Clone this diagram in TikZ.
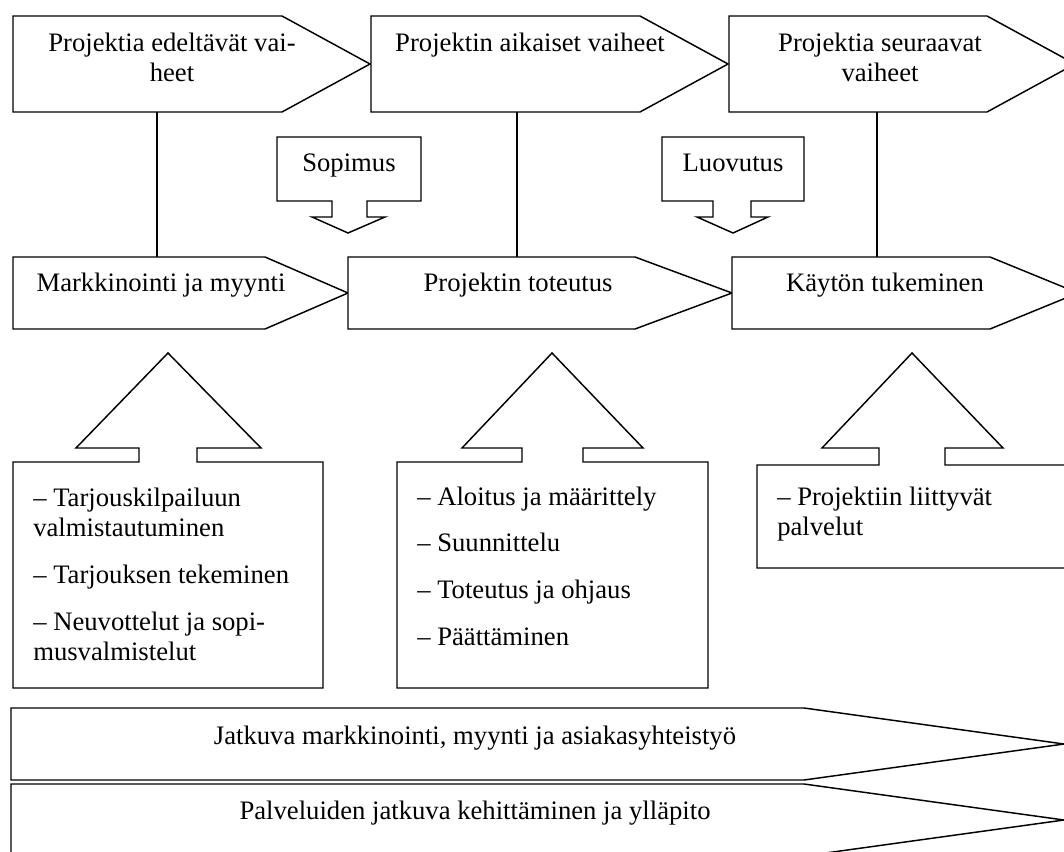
\documentclass[tikz,border=0pt]{standalone}
\usepackage{fontspec}
\setmainfont{Liberation Serif}
\begin{document}
\begin{tikzpicture}[x=0.75pt,y=-0.75pt,
  outline/.style={draw=black,line width=1.1pt,line join=miter,fill=white},
  conn/.style={draw=black,line width=1.1pt},
  lbl/.style={font=\fontsize{20}{22.5}\selectfont,inner sep=0pt,anchor=base},
  lst/.style={font=\fontsize{20}{22.5}\selectfont,inner sep=0pt,anchor=base west,align=left}]
\useasboundingbox (0,0) rectangle (1064,852);
\clip (0,0) rectangle (1064,852);

% connector end points between the two rows of phases
\coordinate (a1b) at (157,112);  \coordinate (m1t) at (157,257);
\coordinate (a2b) at (517,112);  \coordinate (m2t) at (517,257);
\coordinate (a3b) at (877,112);  \coordinate (m3t) at (877,257);
\draw[conn] (a1b) -- (m1t);
\draw[conn] (a2b) -- (m2t);
\draw[conn] (a3b) -- (m3t);

% top row of phase arrows
\draw[outline] (13,16) -- (282,16) -- (370,64) -- (282,112) -- (13,112) -- cycle;
\draw[outline] (371,16) -- (640,16) -- (728,64) -- (640,112) -- (371,112) -- cycle;
\draw[outline] (729,16) -- (987,16) -- (1075,64) -- (987,112) -- (729,112) -- cycle;

% middle row of phase arrows
\draw[outline] (13,257) -- (265,257) -- (348,293) -- (265,329) -- (13,329) -- cycle;
\draw[outline] (348,257) -- (635,257) -- (732,293) -- (635,329) -- (348,329) -- cycle;
\draw[outline] (732,257) -- (990,257) -- (1078,293) -- (990,329) -- (732,329) -- cycle;

% milestone callouts pointing down
\draw[outline] (277,137) -- (421,137) -- (421,201) -- (367,201) -- (367,217) -- (385,217)
  -- (348,233) -- (312,217) -- (332,217) -- (332,201) -- (277,201) -- cycle;
\draw[outline] (662,137) -- (804,137) -- (804,201) -- (751,201) -- (751,217) -- (768,217)
  -- (733,233) -- (697,217) -- (713,217) -- (713,201) -- (662,201) -- cycle;

% task callouts pointing up
\draw[outline] (168,353) -- (261,448) -- (197,448) -- (197,462) -- (323,462) -- (323,688)
  -- (13,688) -- (13,462) -- (139,462) -- (139,448) -- (76,448) -- cycle;
\draw[outline] (552,353) -- (643,448) -- (583,448) -- (583,462) -- (708,462) -- (708,688)
  -- (397,688) -- (397,462) -- (522,462) -- (522,448) -- (462,448) -- cycle;
\draw[outline] (912,353) -- (1003,448) -- (945,448) -- (945,465) -- (1072,465) -- (1072,568)
  -- (757,568) -- (757,465) -- (879,465) -- (879,448) -- (822,448) -- cycle;

% continuous activities
\draw[outline] (11,708) -- (804,708) -- (1064,744) -- (804,780) -- (11,780) -- cycle;
\draw[outline] (11,784) -- (804,784) -- (1064,820) -- (804,856) -- (11,856) -- cycle;

% labels (multi-line nodes sit on the baseline of their last line)
\node[lbl,align=center] (t1) at (172,82) {Projektia edeltävät vai-\\heet};
\node[lbl] (t2) at (530,52) {Projektin aikaiset vaiheet};
\node[lbl,align=center] (t3) at (880,82) {Projektia seuraavat\\vaiheet};
\node[lbl] (s1) at (349,172) {Sopimus};
\node[lbl] (s2) at (733,172) {Luovutus};
\node[lbl] (m1) at (161,292) {Markkinointi ja myynti};
\node[lbl] (m2) at (518,292) {Projektin toteutus};
\node[lbl] (m3) at (885,292) {Käytön tukeminen};
\node[lst] (u1) at (33,660) {– Tarjouskilpailuun\\valmistautuminen\\[12.5pt]– Tarjouksen tekeminen\\[12.5pt]– Neuvottelut ja sopi-\\musvalmistelut};
\node[lst] (u2) at (417,645) {– Aloitus ja määrittely\\[12.5pt]– Suunnittelu\\[12.5pt]– Toteutus ja ohjaus\\[12.5pt]– Päättäminen};
\node[lst] (u3) at (777,535) {– Projektiin liittyvät\\palvelut};
\node[lbl] (b1) at (475,744) {Jatkuva markkinointi, myynti ja asiakasyhteistyö};
\node[lbl] (b2) at (475,819) {Palveluiden jatkuva kehittäminen ja ylläpito};
\end{tikzpicture}
\end{document}
